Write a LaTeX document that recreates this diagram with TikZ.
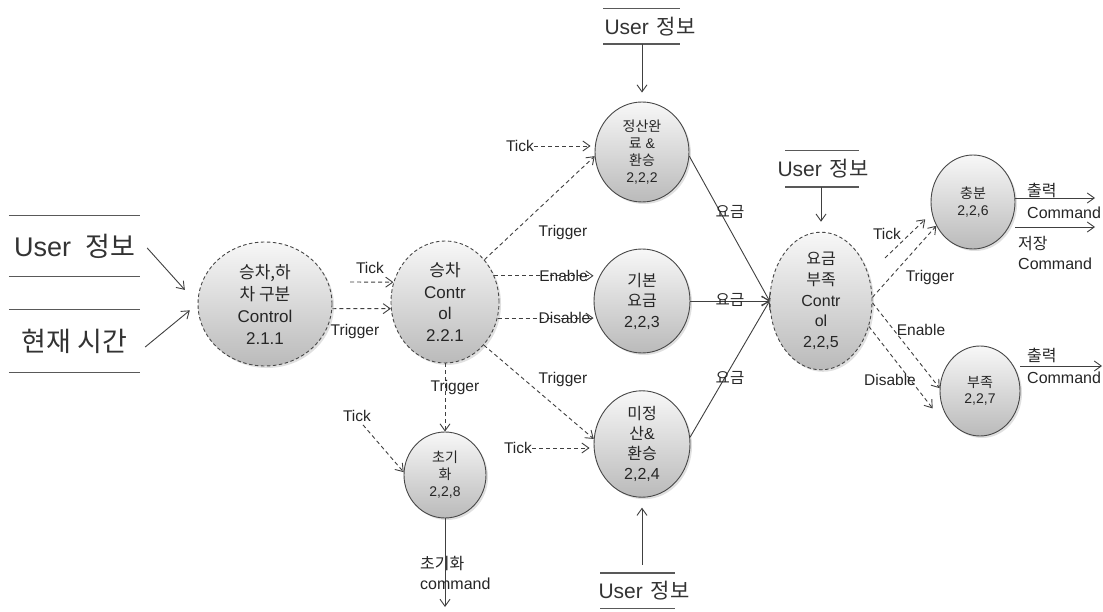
\documentclass[tikz,border=0pt]{standalone}
\usepackage{fontspec}
\setmainfont{Liberation Sans}
\newfontfamily\kr{Noto Sans CJK KR}
\usetikzlibrary{shapes.geometric,arrows.meta,shadows}

% Korean text
\newcommand\hk[1]{{\kr #1}}

\begin{document}
\begin{tikzpicture}[x=1pt,y=-1pt,
  every node/.style={inner sep=0pt, text=black!85},
  proc/.style={ellipse, draw=black!72, line width=0.9pt,
    top color=black!3, bottom color=black!27,
    drop shadow={shadow xshift=2pt, shadow yshift=-2pt, opacity=0.2, fill=black!60},
    align=center},
  ctrl/.style={proc, dash pattern=on 3.5pt off 2.5pt},
  link/.style={draw=black!75, line width=0.9pt, -{Straight Barb[length=7pt,width=10pt]}},
  sig/.style={link, dash pattern=on 4pt off 3pt},
  storeline/.style={draw=black!65, line width=1.4pt},
  lab/.style={font=\fontsize{15.5}{18}\selectfont},
  outlab/.style={align=left, anchor=west},
]
\fill[white] (0,0) rectangle (1103,612);
\useasboundingbox (0,0) rectangle (1103,612);

% ---------- processes ----------
\node[ctrl, minimum width=134pt, minimum height=124pt, font=\fontsize{17}{22}\selectfont]
  (A) at (265,304) {\hk{승차,하}\\\hk{차 구분}\\Control\\2.1.1};
\node[ctrl, minimum width=108pt, minimum height=122pt, font=\fontsize{17}{21.5}\selectfont]
  (B) at (445,302) {\hk{승차}\\Contr\\ol\\2.2.1};
\node[proc, minimum width=94pt, minimum height=100pt, font=\fontsize{14}{16.8}\selectfont]
  (C) at (642,152) {\hk{정산완}\\\hk{료} \&\\\hk{환승}\\2,2,2};
\node[proc, minimum width=96pt, minimum height=104pt, font=\fontsize{16}{20.5}\selectfont]
  (D) at (642,301) {\hk{기본}\\\hk{요금}\\2,2,3};
\node[proc, minimum width=96pt, minimum height=100pt, font=\fontsize{16}{20}\selectfont]
  (E) at (642,444) {\hk{미정}\\\hk{산}\&\\\hk{환승}\\2,2,4};
\node[ctrl, minimum width=102pt, minimum height=122pt, font=\fontsize{16}{20.7}\selectfont]
  (F) at (821,301) {\hk{요금}\\\hk{부족}\\Contr\\ol\\2,2,5};
\node[proc, minimum width=84pt, minimum height=94pt, font=\fontsize{14}{17}\selectfont]
  (G) at (973,202) {\hk{충분}\\2,2,6};
\node[proc, minimum width=80pt, minimum height=90pt, font=\fontsize{14}{16}\selectfont]
  (H) at (980,391) {\hk{부족}\\2,2,7};
\node[proc, minimum width=82pt, minimum height=86pt, font=\fontsize{14}{17}\selectfont]
  (I) at (445,475) {\hk{초기}\\\hk{화}\\2,2,8};

% ---------- data stores ----------
\node[font=\fontsize{27}{30}\selectfont, text=black!80, minimum width=131pt, minimum height=61pt]
  (uL) at (74.5,246) {User\hskip 14pt\hk{정보}};
\draw[storeline] (uL.north west) -- (uL.north east) (uL.south west) -- (uL.south east);

\node[font=\fontsize{27}{30}\selectfont, text=black!80, minimum width=131pt, minimum height=62pt]
  (hT) at (74.5,341) {\hk{현재 시간}};
\draw[storeline] (hT.north west) -- (hT.north east) (hT.south west) -- (hT.south east);

\node[font=\fontsize{21}{24}\selectfont, text=black!80, minimum height=35pt]
  (uT) at (650,26.5) {User\hskip 8pt\hk{정보}};
\draw[storeline] ([xshift=-47pt]uT.north) -- ([xshift=30pt]uT.north)
                 ([xshift=-47pt]uT.south) -- ([xshift=30pt]uT.south);

\node[font=\fontsize{21}{24}\selectfont, text=black!80, minimum height=36pt]
  (uR) at (823,169) {User\hskip 8pt\hk{정보}};
\draw[storeline] ([xshift=-38pt]uR.north) -- ([xshift=36pt]uR.north)
                 ([xshift=-38pt]uR.south) -- ([xshift=36pt]uR.south);

\node[font=\fontsize{21}{24}\selectfont, text=black!80, minimum height=35pt]
  (uB) at (644,590.5) {User\hskip 8pt\hk{정보}};
\draw[storeline] ([xshift=-44pt]uB.north) -- ([xshift=31pt]uB.north)
                 ([xshift=-44pt]uB.south) -- ([xshift=31pt]uB.south);

% ---------- data flows ----------
\draw[link, shorten >=19pt] ([xshift=7pt,yshift=-2pt]uL.east) -- (A.west);
\draw[link, shorten >=10pt] ([xshift=5pt,yshift=-6pt]hT.east) -- (A.west);
\draw[link, shorten >=9pt] (uT.south -| C.north) -- (C.north);
\draw[link, shorten >=10pt] (uR.south -| F.north) -- (F.north);
\draw[link, shorten <=8pt, shorten >=10pt] (uB.north -| E.south) -- (E.south);

\draw[link] (C.-5) -- (F.west);
\draw[link] (D.east) -- (F.west);
\draw[link] (E.8) -- (F.west);
\node[lab] at (730,212) {\hk{요금}};
\node[lab] at (730,300) {\hk{요금}};
\node[lab] at (730,378) {\hk{요금}};

\coordinate (iEnd) at (445,607);
\draw[link] (I.south) -- (iEnd);
\node[lab, outlab, font=\fontsize{16}{20}\selectfont] at (420,573) {\hk{초기화}\\command};

\coordinate (g1) at (1095,198);
\coordinate (g2) at (1095,227);
\coordinate (h1) at (1102,366);
\draw[link] (G.east |- g1) -- (g1);
\draw[link] (G.east |- g2) -- (g2);
\draw[link] (H.east |- h1) -- (h1);
\node[lab, outlab, font=\fontsize{16}{22}\selectfont] at (1027,201) {\hk{출력}\\Command};
\node[lab, outlab, font=\fontsize{16}{20}\selectfont] at (1018,253) {\hk{저장}\\Command};
\node[lab, outlab, font=\fontsize{16}{22}\selectfont] at (1027,366) {\hk{출력}\\Command};

% ---------- control flows ----------
\coordinate (tAB) at (350,282);
\draw[sig] (tAB) -- (B.159);
\node[lab] at (370,268) {Tick};
\draw[sig] (A.-4) -- (B.187);
\node[lab] at (355,331) {Trigger};

\draw[sig] (B.47) -- (C.185);
\node[lab] at (563,232) {Trigger};
\node[lab] (tkC) at (520,146) {Tick};
\draw[sig, shorten >=4pt] (tkC.east) -- (tkC.east -| C.west);

\draw[sig] (B.28) -- (B.28 -| D.west);
\node[lab] at (563.5,276) {Enable};
\draw[sig] (B.-17) -- (B.-17 -| D.west);
\node[lab] at (564.5,318) {Disable};

\draw[sig] (B.-48) -- (E.174);
\node[lab] at (563,379) {Trigger};
\node[lab] (tkE) at (518,448) {Tick};
\draw[sig, shorten >=4pt] (tkE.east) -- (tkE.east -| E.west);

\draw[sig] (B.south) -- (I.north);
\node[lab] at (455,387) {Trigger};
\node[lab] (tkI) at (357,416) {Tick};
\draw[sig] ([xshift=6pt,yshift=-3pt]tkI.south) -- (I.176);

\coordinate (tkGs) at (885,258);
\draw[sig, shorten >=9pt] (tkGs) -- (G.195);
\node[lab] at (887,234) {Tick};
\draw[sig] (F.4) -- (G.213);
\node[lab] at (930,277) {Trigger};

\draw[sig] (F.-2) -- (H.176);
\node[lab] at (921,330) {Enable};
\draw[sig] (F.-28) -- ([xshift=-10pt]H.205);
\node[lab] at (890,380) {Disable};
\end{tikzpicture}
\end{document}
